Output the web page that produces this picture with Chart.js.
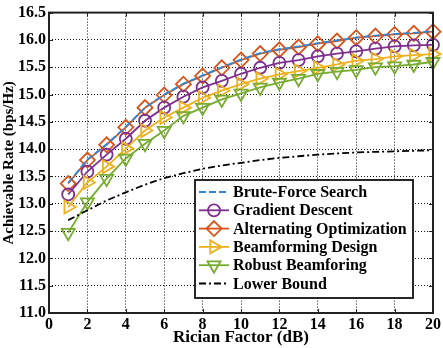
<!DOCTYPE html>
<html>
<head>
<meta charset="utf-8">
<script src="https://cdn.jsdelivr.net/npm/chart.js@4.4.1/dist/chart.umd.min.js"></script>
<style>
  html, body { margin: 0; padding: 0; background: #fff; }
  #wrap { width: 443px; height: 348px; }
</style>
</head>
<body>
<div id="wrap"><canvas id="myChart" width="443" height="348"></canvas></div>
<script>
// データ
const ricianFactor = [1, 2, 3, 4, 5, 6, 7, 8, 9, 10, 11, 12, 13, 14, 15, 16, 17, 18, 19, 20];
const bruteForce = [13.38, 13.81, 14.09, 14.41, 14.76, 15.00, 15.20, 15.35, 15.50, 15.64, 15.76, 15.83, 15.88, 15.94, 15.99, 16.04, 16.08, 16.11, 16.13, 16.16];
const gradientDescent = [13.17, 13.59, 13.90, 14.19, 14.52, 14.76, 14.96, 15.13, 15.25, 15.38, 15.49, 15.58, 15.63, 15.70, 15.75, 15.79, 15.84, 15.88, 15.90, 15.91];
const alternatingOpt = [13.37, 13.80, 14.08, 14.40, 14.76, 14.99, 15.19, 15.34, 15.49, 15.63, 15.75, 15.82, 15.87, 15.93, 15.98, 16.04, 16.07, 16.10, 16.12, 16.15];
const beamformingDesign = [12.94, 13.39, 13.68, 14.01, 14.34, 14.58, 14.76, 14.94, 15.07, 15.19, 15.29, 15.37, 15.43, 15.49, 15.55, 15.62, 15.65, 15.70, 15.72, 15.74];
const robustBeamforming = [12.47, 13.03, 13.46, 13.83, 14.10, 14.34, 14.61, 14.76, 14.91, 15.02, 15.13, 15.22, 15.29, 15.38, 15.42, 15.45, 15.50, 15.52, 15.55, 15.60];
const lowerBound = [12.70, 12.88, 13.06, 13.21, 13.35, 13.47, 13.56, 13.64, 13.70, 13.75, 13.80, 13.84, 13.87, 13.90, 13.92, 13.94, 13.95, 13.96, 13.97, 13.98];
const xTicks = [0, 2, 4, 6, 8, 10, 12, 14, 16, 18, 20];
const yTicks = [11.0, 11.5, 12.0, 12.5, 13.0, 13.5, 14.0, 14.5, 15.0, 15.5, 16.0, 16.5];

const FONT = "'Liberation Serif', 'Times New Roman', serif";
const pts = (ys) => ricianFactor.map((x, i) => ({ x: x, y: ys[i] }));

// 系列の設定
const series = [
    { label: 'Brute-Force Search', data: bruteForce, color: '#2b8ad8', dash: [7, 3], style: false, rot: 0 },
    { label: 'Gradient Descent', data: gradientDescent, color: '#7E2F8E', dash: [], style: 'circle', rot: 0, r: 6 },
    { label: 'Alternating Optimization', data: alternatingOpt, color: '#D95319', dash: [], style: 'rectRot', rot: 0, r: 7.5 },
    { label: 'Beamforming Design', data: beamformingDesign, color: '#EDB120', dash: [], style: 'triangle', rot: 90, r: 7.5 },
    { label: 'Robust Beamforing', data: robustBeamforming, color: '#77AC30', dash: [], style: 'triangle', rot: 180, r: 7.5 },
    { label: 'Lower Bound', data: lowerBound, color: '#000000', dash: [7, 3, 2, 3], style: false, rot: 0 }
];

const datasets = series.map(s => ({
    label: s.label,
    data: pts(s.data),
    borderColor: s.color,
    backgroundColor: 'rgba(0,0,0,0)',
    borderWidth: 1.8,
    borderDash: s.dash,
    pointStyle: s.style,
    pointRotation: s.rot,
    pointRadius: s.style ? s.r : 0,
    pointBorderWidth: 1.8,
    pointBorderColor: s.color,
    pointBackgroundColor: 'rgba(0,0,0,0)',
    tension: 0,
    clip: false
}));
// 描画順: 下の系列から
const ordered = [datasets[5], datasets[4], datasets[3], datasets[1], datasets[0], datasets[2]];

// 枠と内向きの目盛り
const axesBox = {
    id: 'axesBox',
    afterDatasetsDraw(chart) {
        const { ctx, chartArea: { left, right, top, bottom }, scales: { x, y } } = chart;
        ctx.save();
        ctx.strokeStyle = '#222';
        ctx.lineWidth = 1;
        xTicks.forEach(v => {
            const px = Math.round(x.getPixelForValue(v)) + 0.5;
            ctx.beginPath();
            ctx.moveTo(px, bottom); ctx.lineTo(px, bottom - 4);
            ctx.moveTo(px, top); ctx.lineTo(px, top + 4);
            ctx.stroke();
        });
        yTicks.forEach(v => {
            const py = Math.round(y.getPixelForValue(v)) + 0.5;
            ctx.beginPath();
            ctx.moveTo(left, py); ctx.lineTo(left + 4, py);
            ctx.moveTo(right, py); ctx.lineTo(right - 4, py);
            ctx.stroke();
        });
        ctx.lineWidth = 2;
        ctx.strokeRect(left, top, right - left, bottom - top);
        ctx.restore();
    }
};

// 凡例のマーカー
function drawMarker(ctx, style, rot, r, cx, cy) {
    ctx.beginPath();
    if (style === 'circle') {
        ctx.arc(cx, cy, r, 0, Math.PI * 2);
    } else if (style === 'rectRot') {
        ctx.moveTo(cx, cy - r); ctx.lineTo(cx + r, cy);
        ctx.lineTo(cx, cy + r); ctx.lineTo(cx - r, cy);
        ctx.closePath();
    } else if (style === 'triangle') {
        let a = rot * Math.PI / 180;
        for (let k = 0; k < 3; k++) {
            const px = cx + Math.sin(a) * r, py = cy - Math.cos(a) * r;
            if (k === 0) ctx.moveTo(px, py); else ctx.lineTo(px, py);
            a += 2 * Math.PI / 3;
        }
        ctx.closePath();
    }
    ctx.stroke();
}

// 凡例
const boxLegend = {
    id: 'boxLegend',
    afterDraw(chart) {
        const { ctx } = chart;
        const bx = 195, by = 180, bw = 218, bh = 118;
        ctx.save();
        ctx.fillStyle = '#fff';
        ctx.fillRect(bx, by, bw, bh);
        ctx.strokeStyle = '#111';
        ctx.lineWidth = 1.8;
        ctx.strokeRect(bx, by, bw, bh);
        ctx.font = 'bold 16px ' + FONT;
        ctx.textBaseline = 'middle';
        ctx.textAlign = 'left';
        series.forEach((s, i) => {
            const cy = 192 + i * 18.3;
            ctx.strokeStyle = s.color;
            ctx.lineWidth = 1.8;
            ctx.setLineDash(s.dash);
            ctx.beginPath();
            ctx.moveTo(199, cy); ctx.lineTo(229, cy);
            ctx.stroke();
            ctx.setLineDash([]);
            if (s.style) drawMarker(ctx, s.style, s.rot, s.r, 214, cy);
            ctx.fillStyle = '#000';
            ctx.fillText(s.label, 233, cy + 1);
        });
        ctx.restore();
    }
};

const config = {
    type: 'line',
    data: { datasets: ordered },
    options: {
        responsive: false,
        animation: false,
        layout: { padding: { top: 9, right: 9, left: 0, bottom: 0 } },
        plugins: { legend: { display: false }, tooltip: { enabled: false } },
        scales: {
            x: {
                type: 'linear',
                min: 0, max: 20,
                afterBuildTicks: (axis) => { axis.ticks = xTicks.map(v => ({ value: v })); },
                afterFit: (axis) => { axis.height = 35; },
                ticks: { font: { family: FONT, size: 16, weight: 'bold' }, color: '#000', padding: 2, maxRotation: 0 },
                grid: { color: '#111', lineWidth: 1, drawTicks: false },
                border: { display: false, dash: [1, 2] },
                title: { display: true, text: 'Rician Factor (dB)', color: '#000', padding: { top: 0, bottom: 0 },
                         font: { family: FONT, size: 17, weight: 'bold' } }
            },
            y: {
                min: 11, max: 16.5,
                afterBuildTicks: (axis) => { axis.ticks = yTicks.map(v => ({ value: v })); },
                afterFit: (axis) => { axis.width = 49; },
                ticks: { font: { family: FONT, size: 16, weight: 'bold' }, color: '#000', padding: 3,
                         callback: (v) => Number(v).toFixed(1) },
                grid: { color: '#111', lineWidth: 1, drawTicks: false },
                border: { display: false, dash: [1, 2] },
                title: { display: true, text: 'Achievable Rate (bps/Hz)', color: '#000', padding: { top: 0, bottom: 0 },
                         font: { family: FONT, size: 15, weight: 'bold' } }
            }
        }
    },
    plugins: [axesBox, boxLegend]
};

const myChart = new Chart(document.getElementById('myChart'), config);
</script>
</body>
</html>
